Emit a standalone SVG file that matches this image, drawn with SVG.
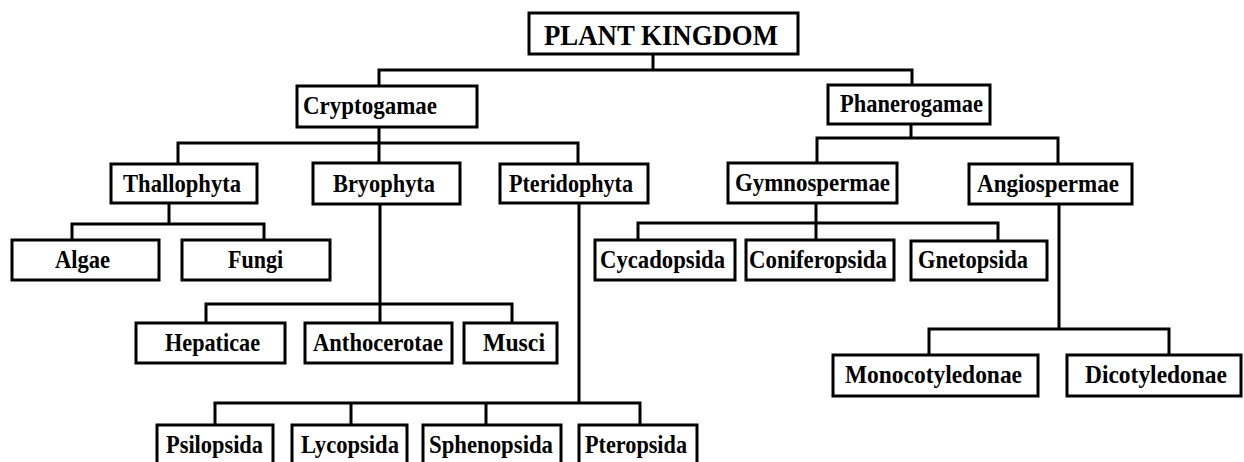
<svg xmlns="http://www.w3.org/2000/svg" width="1244" height="462" viewBox="0 0 1244 462">
<style>
.box{fill:#fff;stroke:#000;stroke-width:3}
.lbl{font-family:"Liberation Serif","Times New Roman",serif;font-weight:bold;font-size:25px;fill:#000}
.title{font-size:29px}
.con{fill:none;stroke:#000;stroke-width:3;stroke-linecap:square}
</style>
<rect width="1244" height="462" fill="#fff"/>
<g id="connectors">
<path class="con" d="M653 54V70M379 70H912M379 70V86M912 70V85"/>
<path class="con" d="M379 127V143M178 143H578M178 143V164M379 143V163M578 143V164"/>
<path class="con" d="M911 124V138M817 138H1058M817 138V163M1058 138V164"/>
<path class="con" d="M169 203V224M72 224H264M72 224V240M264 224V240"/>
<path class="con" d="M380 204V323M206 304H512M206 304V323M512 304V323"/>
<path class="con" d="M579 203V403M215 403H640M215 403V425M351 403V425M486 403V425M640 403V425"/>
<path class="con" d="M816 203V240M638 223H998M638 223V240M998 223V241"/>
<path class="con" d="M1059 204V329M929 329H1169M929 329V355M1169 329V355"/>
</g>
<g id="plant-kingdom"><rect class="box" x="529" y="13" width="269" height="41"/><text class="lbl title" x="544" y="45" textLength="234" lengthAdjust="spacingAndGlyphs">PLANT KINGDOM</text></g>
<g id="cryptogamae"><rect class="box" x="297" y="86" width="180" height="41"/><text class="lbl" x="303" y="114" textLength="134" lengthAdjust="spacingAndGlyphs">Cryptogamae</text></g>
<g id="phanerogamae"><rect class="box" x="828" y="85" width="162" height="39"/><text class="lbl" x="840" y="112" textLength="143" lengthAdjust="spacingAndGlyphs">Phanerogamae</text></g>
<g id="thallophyta"><rect class="box" x="111" y="164" width="146" height="39"/><text class="lbl" x="123" y="192" textLength="118" lengthAdjust="spacingAndGlyphs">Thallophyta</text></g>
<g id="bryophyta"><rect class="box" x="313" y="163" width="147" height="41"/><text class="lbl" x="333" y="192" textLength="102" lengthAdjust="spacingAndGlyphs">Bryophyta</text></g>
<g id="pteridophyta"><rect class="box" x="500" y="164" width="148" height="39"/><text class="lbl" x="509" y="192" textLength="124" lengthAdjust="spacingAndGlyphs">Pteridophyta</text></g>
<g id="gymnospermae"><rect class="box" x="728" y="163" width="169" height="40"/><text class="lbl" x="735" y="191" textLength="155" lengthAdjust="spacingAndGlyphs">Gymnospermae</text></g>
<g id="angiospermae"><rect class="box" x="969" y="164" width="163" height="40"/><text class="lbl" x="977" y="192" textLength="142" lengthAdjust="spacingAndGlyphs">Angiospermae</text></g>
<g id="algae"><rect class="box" x="12" y="240" width="147" height="40"/><text class="lbl" x="55" y="268" textLength="55" lengthAdjust="spacingAndGlyphs">Algae</text></g>
<g id="fungi"><rect class="box" x="182" y="240" width="148" height="40"/><text class="lbl" x="228" y="268" textLength="55" lengthAdjust="spacingAndGlyphs">Fungi</text></g>
<g id="cycadopsida"><rect class="box" x="595" y="240" width="140" height="40"/><text class="lbl" x="600" y="268" textLength="125" lengthAdjust="spacingAndGlyphs">Cycadopsida</text></g>
<g id="coniferopsida"><rect class="box" x="746" y="240" width="148" height="40"/><text class="lbl" x="749" y="268" textLength="138" lengthAdjust="spacingAndGlyphs">Coniferopsida</text></g>
<g id="gnetopsida"><rect class="box" x="911" y="241" width="136" height="39"/><text class="lbl" x="918" y="268" textLength="110" lengthAdjust="spacingAndGlyphs">Gnetopsida</text></g>
<g id="hepaticae"><rect class="box" x="136" y="323" width="149" height="40"/><text class="lbl" x="165" y="351" textLength="95" lengthAdjust="spacingAndGlyphs">Hepaticae</text></g>
<g id="anthocerotae"><rect class="box" x="305" y="323" width="147" height="40"/><text class="lbl" x="313" y="351" textLength="130" lengthAdjust="spacingAndGlyphs">Anthocerotae</text></g>
<g id="musci"><rect class="box" x="464" y="323" width="93" height="40"/><text class="lbl" x="483" y="351" textLength="62" lengthAdjust="spacingAndGlyphs">Musci</text></g>
<g id="monocotyledonae"><rect class="box" x="833" y="355" width="205" height="41"/><text class="lbl" x="845" y="383" textLength="177" lengthAdjust="spacingAndGlyphs">Monocotyledonae</text></g>
<g id="dicotyledonae"><rect class="box" x="1067" y="355" width="174" height="41"/><text class="lbl" x="1085" y="383" textLength="142" lengthAdjust="spacingAndGlyphs">Dicotyledonae</text></g>
<g id="psilopsida"><rect class="box" x="157" y="425" width="116" height="42"/><text class="lbl" x="166" y="453" textLength="97" lengthAdjust="spacingAndGlyphs">Psilopsida</text></g>
<g id="lycopsida"><rect class="box" x="292" y="425" width="115" height="42"/><text class="lbl" x="301" y="453" textLength="98" lengthAdjust="spacingAndGlyphs">Lycopsida</text></g>
<g id="sphenopsida"><rect class="box" x="423" y="425" width="138" height="42"/><text class="lbl" x="429" y="453" textLength="124" lengthAdjust="spacingAndGlyphs">Sphenopsida</text></g>
<g id="pteropsida"><rect class="box" x="579" y="425" width="118" height="42"/><text class="lbl" x="585" y="453" textLength="102" lengthAdjust="spacingAndGlyphs">Pteropsida</text></g>
</svg>
